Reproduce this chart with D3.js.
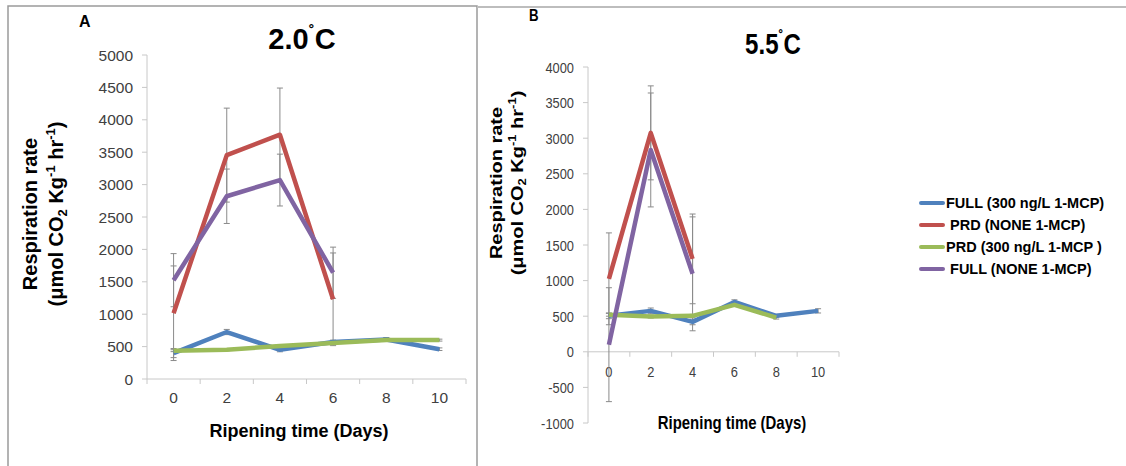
<!DOCTYPE html>
<html>
<head>
<meta charset="utf-8">
<script src="https://cdn.jsdelivr.net/npm/d3@7"></script>
<style>
  body { margin: 0; background: #fff; }
  svg { display: block; font-family: "Liberation Sans", Arial, sans-serif; }
</style>
</head>
<body>
<svg id="chart" width="1126" height="466"></svg>
<script>
// Ripening days (category axis)
const days = [0, 2, 4, 6, 8, 10];

// Series names, in legend order
const seriesNames = ['FULL (300 ng/L 1-MCP)', ' PRD (NONE 1-MCP)', 'PRD (300 ng/L 1-MCP )', ' FULL (NONE 1-MCP)'];
const seriesColors = ['#4f81bd', '#c0504d', '#9bbb59', '#8064a2'];

// Panel A, 2.0 C
const fullMcpA  = [400, 725, 450, 570, 610, 460];
const prdNoneA  = [1015, 3455, 3770, 1230];
const prdMcpA   = [437, 450, 510, 555, 600, 600];
const fullNoneA = [1525, 2820, 3070, 1640];
const fullMcpErrA  = [70, 40, 30, 30, 30, 20];
const prdNoneErrA  = [730, 725, 720, 715];
const prdMcpErrA   = [15, 15, 15, 15, 15, 15];
const fullNoneErrA = [410, 420, 400, 395];
const yTicksA = [0, 500, 1000, 1500, 2000, 2500, 3000, 3500, 4000, 4500, 5000];

// Panel B, 5.5 C
const fullMcpB  = [505, 575, 420, 700, 505, 575];
const prdNoneB  = [1025, 3075, 1305];
const prdMcpB   = [520, 495, 505, 660, 480];
const fullNoneB = [100, 2835, 1095];
const fullMcpErrB  = [40, 40, 40, 30, 20, 30];
const prdNoneErrB  = [645, 660, 630];
const prdMcpErrB   = [20, 20, 20, 20, 20];
const fullNoneErrB = [800, 800, 800];
const yTicksB = [-1000, -500, 0, 500, 1000, 1500, 2000, 2500, 3000, 3500, 4000];

const svg = d3.select('#chart');

// frames around the panels
svg.append('path')
    .attr('d', 'M8,466V6H477V466')
    .attr('fill', 'none').attr('stroke', '#9a9a9a').attr('stroke-width', 1.5);
svg.append('line')
    .attr('x1', 477).attr('x2', 1126).attr('y1', 7).attr('y2', 7)
    .attr('stroke', '#bdbdbd').attr('stroke-width', 2);

// place a text; sx squeezes it horizontally (panel B is narrower)
function addText(g, x, y, str, opts) {
    const sx = opts.sx || 1;
    const rot = opts.rotate ? ' rotate(-90)' : '';
    return g.append('text')
        .attr('transform', `translate(${x},${y}) scale(${sx},1)${rot}`)
        .attr('text-anchor', opts.anchor || 'start')
        .attr('font-size', opts.size)
        .attr('font-weight', opts.bold ? 'bold' : 'normal')
        .attr('fill', opts.fill || '#000')
        .text(str);
}

function yTitle(g, x1, x2, cy, sx) {
    addText(g, x1, cy, 'Respiration rate', { anchor: 'middle', size: 20, bold: true, rotate: true, sx });
    const t = addText(g, x2, cy, '', { anchor: 'middle', size: 20, bold: true, rotate: true, sx });
    t.append('tspan').text('(μmol CO');
    t.append('tspan').attr('font-size', 13).attr('dy', 4).text('2');
    t.append('tspan').attr('dy', -4).text(' Kg');
    t.append('tspan').attr('font-size', 13).attr('dy', -8).text('-1');
    t.append('tspan').attr('dy', 8).text(' hr');
    t.append('tspan').attr('font-size', 13).attr('dy', -8).text('-1');
    t.append('tspan').attr('dy', 8).text(')');
}

function drawPanel(p) {
    const g = svg.append('g');
    const sx = p.sx;

    const x = d3.scaleBand().domain(days).range(p.xRange);
    const y = d3.scaleLinear().domain(p.yDomain).range(p.yRange);
    const cx = d => x(d) + x.bandwidth() / 2;
    const axisColor = '#c8c8c8';

    // y axis line and ticks
    g.append('line').attr('x1', p.xRange[0]).attr('x2', p.xRange[0])
        .attr('y1', p.yRange[0]).attr('y2', p.yRange[1]).attr('stroke', axisColor);
    p.yTicks.forEach(v => {
        g.append('line').attr('x1', p.xRange[0] - 5).attr('x2', p.xRange[0])
            .attr('y1', y(v)).attr('y2', y(v)).attr('stroke', axisColor);
        addText(g, p.xRange[0] - 14, y(v) + 5.5, v, { anchor: 'end', size: 15.5, fill: '#404040', sx });
    });

    // x axis at zero
    const y0 = y(0);
    g.append('line').attr('x1', p.xRange[0]).attr('x2', p.xRange[1])
        .attr('y1', y0).attr('y2', y0).attr('stroke', axisColor);
    const bounds = days.map(d => x(d)).concat([p.xRange[1]]);
    bounds.forEach(bx => {
        g.append('line').attr('x1', bx).attr('x2', bx)
            .attr('y1', y0).attr('y2', y0 + 5).attr('stroke', axisColor);
    });
    days.forEach(d => {
        addText(g, cx(d), p.xLabelY, d, { anchor: 'middle', size: 15.5, fill: '#404040', sx });
    });

    // error bars
    p.series.forEach((vals, i) => {
        const err = p.errors[i];
        vals.forEach((v, j) => {
            const xx = cx(days[j]);
            const top = y(v + err[j]), bot = y(v - err[j]);
            g.append('line').attr('x1', xx).attr('x2', xx).attr('y1', top).attr('y2', bot)
                .attr('stroke', '#8a8a8a').attr('stroke-width', 1);
            [top, bot].forEach(yy => {
                g.append('line').attr('x1', xx - 3).attr('x2', xx + 3).attr('y1', yy).attr('y2', yy)
                    .attr('stroke', '#8a8a8a').attr('stroke-width', 1);
            });
        });
    });

    // series lines
    const line = d3.line().x((v, j) => cx(days[j])).y(v => y(v));
    p.series.forEach((vals, i) => {
        g.append('path').datum(vals).attr('d', line)
            .attr('fill', 'none').attr('stroke', seriesColors[i])
            .attr('stroke-width', 4.5).attr('stroke-linejoin', 'round');
    });

    // titles and labels
    addText(g, p.letter[0], p.letter[1], p.letterText, { size: 16, bold: true, sx });
    const tt = addText(g, p.title[0], p.title[1], '', { anchor: 'middle', size: 29, bold: true, sx });
    tt.append('tspan').text(p.titleText);
    tt.append('tspan').attr('font-size', 18).attr('dy', -11).text('˚');
    tt.append('tspan').attr('dy', 11).text('C');
    addText(g, p.xTitle[0], p.xTitle[1], 'Ripening time (Days)', { anchor: 'middle', size: 18, bold: true, sx });
    yTitle(g, p.yTitleX[0], p.yTitleX[1], p.yTitleY, sx);
}

drawPanel({
    sx: 1,
    xRange: [147, 466], yRange: [379, 55], yDomain: [0, 5000], yTicks: yTicksA,
    xLabelY: 403,
    series: [fullMcpA, prdNoneA, prdMcpA, fullNoneA],
    errors: [fullMcpErrA, prdNoneErrA, prdMcpErrA, fullNoneErrA],
    letter: [79, 27], letterText: 'A',
    title: [302, 49], titleText: '2.0',
    xTitle: [299, 437],
    yTitleX: [37, 63], yTitleY: 214
});

drawPanel({
    sx: 0.83,
    xRange: [588, 839], yRange: [423, 67], yDomain: [-1000, 4000], yTicks: yTicksB,
    xLabelY: 377,
    series: [fullMcpB, prdNoneB, prdMcpB, fullNoneB],
    errors: [fullMcpErrB, prdNoneErrB, prdMcpErrB, fullNoneErrB],
    letter: [529, 21], letterText: 'B',
    title: [773, 54], titleText: '5.5',
    xTitle: [732, 429],
    yTitleX: [502, 523], yTitleY: 183
});

// legend
const legend = svg.append('g').attr('transform', 'translate(921,203)');
seriesNames.forEach((name, i) => {
    const row = legend.append('g').attr('transform', `translate(0,${i * 22})`);
    row.append('line').attr('x1', 0).attr('x2', 22).attr('y1', 0).attr('y2', 0)
        .attr('stroke', seriesColors[i]).attr('stroke-width', 4).attr('stroke-linecap', 'round');
    row.append('text').attr('x', 25).attr('y', 5)
        .attr('font-size', 14.5).attr('font-weight', 'bold')
        .style('white-space', 'pre')
        .text(name);
});
</script>
</body>
</html>
